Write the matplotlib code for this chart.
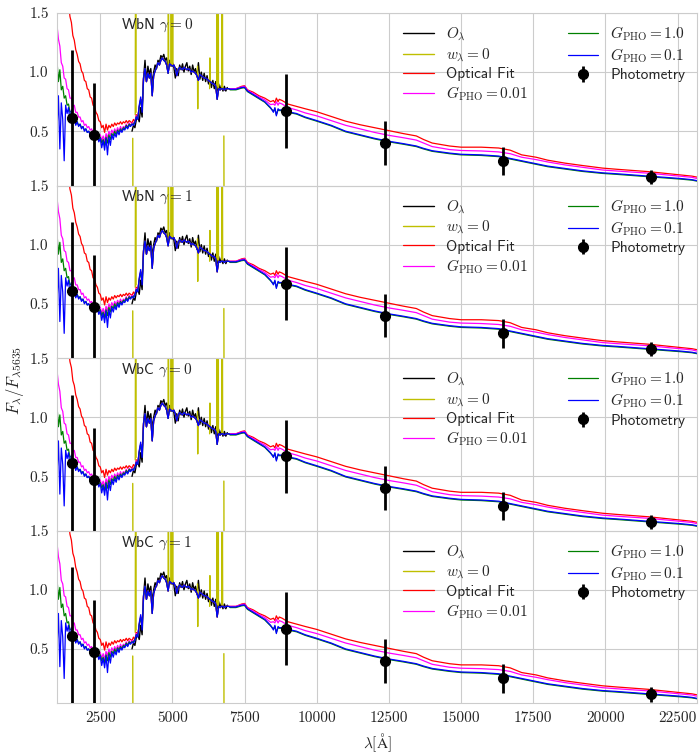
import numpy as np
import matplotlib
matplotlib.use('Agg')
import matplotlib.pyplot as plt
import seaborn as sns

sns.set_style('whitegrid')
plt.rcParams['font.family'] = ['cmr10', 'DejaVu Sans']
plt.rcParams['mathtext.fontset'] = 'cm'
plt.rcParams['axes.unicode_minus'] = False
plt.rcParams['axes.formatter.use_mathtext'] = True

nan = np.nan

panel_titles = ['WbN $\\gamma = 0$', 'WbN $\\gamma = 1$', 'WbC $\\gamma = 0$', 'WbC $\\gamma = 1$']

# ---- model wavelength grids ----
uv_wave = np.arange(1000, 4000, 50)
opt_wave = np.arange(4000, 7000, 50)
ir_wave = [7000, 7200, 7400, 7500, 7600, 7800, 8000, 8200, 8400, 8500, 8550, 8600, 8660, 8700, 8800,
           9000, 9300, 9600, 10000, 10500, 11000, 11500, 12000, 12500, 13000, 13450, 13700, 14000,
           14600, 15000, 15700, 16300, 16700, 17100, 17600, 18000, 18600, 19200, 19900, 20400,
           21500, 22600, 23000, 23170]

# ---- UV part of each model ----
red_uv = [2.30, 2.15, 2.20, 1.95, 2.00, 1.82, 1.78, 1.64, 1.58, 1.47,
          1.42, 1.31, 1.27, 1.19, 1.15, 1.09, 1.07, 1.01, 0.99, 0.93,
          0.92, 0.86, 0.85, 0.79, 0.78, 0.72, 0.71, 0.66, 0.64, 0.59,
          0.58, 0.53, 0.55, 0.49, 0.56, 0.51, 0.55, 0.53, 0.56, 0.54,
          0.57, 0.55, 0.57, 0.56, 0.58, 0.56, 0.58, 0.57, 0.59, 0.57,
          0.59, 0.58, 0.57, 0.60, 0.58, 0.64, 0.62, 0.71, 0.77, 0.72]
magenta_uv = [1.40, 1.28, 1.22, 1.08, 1.05, 0.95, 0.94, 0.86, 0.85, 0.78,
              0.78, 0.71, 0.72, 0.66, 0.66, 0.62, 0.62, 0.58, 0.59, 0.55,
              0.56, 0.53, 0.54, 0.51, 0.52, 0.49, 0.50, 0.47, 0.48, 0.45,
              0.47, 0.42, 0.46, 0.41, 0.48, 0.44, 0.50, 0.46, 0.51, 0.48,
              0.52, 0.49, 0.53, 0.50, 0.54, 0.51, 0.54, 0.53, 0.56, 0.53,
              0.57, 0.55, 0.57, 0.57, 0.58, 0.63, 0.61, 0.70, 0.77, 0.70]
green_uv = [1.10, 0.92, 1.02, 0.85, 0.88, 0.78, 0.80, 0.72, 0.73, 0.66,
            0.67, 0.61, 0.62, 0.58, 0.58, 0.55, 0.56, 0.53, 0.54, 0.51,
            0.52, 0.49, 0.50, 0.48, 0.49, 0.47, 0.48, 0.45, 0.46, 0.43,
            0.45, 0.40, 0.43, 0.38, 0.45, 0.40, 0.47, 0.43, 0.48, 0.46,
            0.50, 0.47, 0.51, 0.49, 0.52, 0.50, 0.53, 0.52, 0.55, 0.53,
            0.56, 0.55, 0.56, 0.56, 0.58, 0.62, 0.61, 0.70, 0.77, 0.69]
blue_uv = [0.50, 0.80, 0.35, 0.74, 0.60, 0.25, 0.72, 0.65, 0.70, 0.58,
           0.68, 0.60, 0.61, 0.55, 0.58, 0.54, 0.56, 0.52, 0.54, 0.50,
           0.52, 0.49, 0.50, 0.47, 0.49, 0.46, 0.48, 0.44, 0.46, 0.41,
           0.44, 0.36, 0.42, 0.34, 0.44, 0.30, 0.45, 0.38, 0.47, 0.43,
           0.48, 0.45, 0.50, 0.47, 0.51, 0.49, 0.52, 0.51, 0.54, 0.52,
           0.55, 0.54, 0.56, 0.55, 0.57, 0.62, 0.60, 0.72, 0.79, 0.66]

# ---- optical part shared by all models ----
model_opt = [0.95, 1.03, 0.92, 0.99, 0.95, 0.99, 0.80, 0.97, 1.01, 1.04,
             1.08, 1.06, 1.10, 1.12, 1.10, 1.09, 1.06, 0.99, 1.07, 1.06,
             1.05, 1.06, 1.03, 0.97, 1.02, 1.04, 1.03, 1.02, 1.04, 1.03,
             1.02, 1.03, 1.02, 1.00, 1.01, 1.00, 0.99, 0.97, 0.93, 0.98,
             0.97, 0.96, 0.95, 0.95, 0.94, 0.93, 0.92, 0.91, 0.90, 0.90,
             0.88, 0.77, 0.86, 0.85, 0.86, 0.86, 0.85, 0.86, 0.86, 0.86]

# ---- near-IR part of each model ----
red_ir = [0.86, 0.86, 0.88, 0.885, 0.85, 0.83, 0.80, 0.78, 0.75, 0.76, 0.74, 0.78, 0.75, 0.77, 0.76,
          0.73, 0.71, 0.69, 0.665, 0.625, 0.585, 0.555, 0.53, 0.505, 0.48, 0.46, 0.43, 0.40,
          0.375, 0.365, 0.365, 0.358, 0.34, 0.30, 0.28, 0.255, 0.23, 0.21, 0.188, 0.178,
          0.158, 0.13, 0.12, 0.112]
magenta_ir = [0.86, 0.86, 0.875, 0.88, 0.845, 0.82, 0.79, 0.765, 0.725, 0.73, 0.72, 0.75, 0.72, 0.74, 0.73,
              0.70, 0.68, 0.655, 0.63, 0.59, 0.55, 0.52, 0.49, 0.465, 0.445, 0.425, 0.40, 0.37,
              0.345, 0.337, 0.333, 0.325, 0.31, 0.28, 0.26, 0.24, 0.215, 0.195, 0.172, 0.163,
              0.145, 0.12, 0.11, 0.10]
green_ir = [0.85, 0.85, 0.865, 0.868, 0.835, 0.805, 0.775, 0.745, 0.695, 0.67, 0.69, 0.64, 0.68, 0.675, 0.675,
            0.66, 0.645, 0.615, 0.585, 0.545, 0.495, 0.465, 0.435, 0.41, 0.39, 0.37, 0.35, 0.33,
            0.31, 0.30, 0.295, 0.285, 0.265, 0.245, 0.22, 0.20, 0.18, 0.16, 0.143, 0.135,
            0.115, 0.095, 0.086, 0.078]
blue_ir = [0.855, 0.855, 0.87, 0.872, 0.84, 0.81, 0.78, 0.75, 0.70, 0.66, 0.70, 0.63, 0.69, 0.68, 0.68,
           0.665, 0.65, 0.62, 0.59, 0.55, 0.50, 0.47, 0.44, 0.415, 0.395, 0.375, 0.355, 0.335,
           0.315, 0.305, 0.30, 0.29, 0.27, 0.25, 0.225, 0.205, 0.185, 0.165, 0.148, 0.14,
           0.12, 0.10, 0.09, 0.082]

# ---- observed optical spectrum ----
obs_wave = np.arange(3600, 6950, 50)
obs_flux = [0.50, 0.55, 0.53, 0.60, 0.62, 0.58, 0.70, 0.62, 0.95, 1.10,
            0.92, 1.05, 0.98, 1.03, 0.90, 1.00, 1.06, 1.03, 1.10, 1.08,
            1.14, 1.12, 1.15, 1.10, 1.12, 1.04, 1.10, 1.05, 1.08, 1.04,
            0.95, 1.03, 0.97, 1.06, 1.02, 1.07, 1.00, 1.05, 1.08, 1.01,
            1.05, 0.98, 1.06, 1.00, 1.03, 0.96, 1.08, 0.94, 1.00, 0.93,
            0.99, 0.92, 0.97, 0.90, 0.95, 0.87, 0.93, 0.86, 0.92, 0.84,
            0.90, 0.85, 0.89, 0.84, 0.88, 0.84, 0.87]

# ---- masked (w=0) pixels ----
mask_wave = [3625, 3632, nan, 3712, 3727, 3742, nan, 4852, 4861, 4870, nan, 4950, 4959, 4968, nan,
             4998, 5007, 5016, nan, 5868, 5876, 5886, nan, 6290, 6300, 6310, nan,
             6538, 6548, 6556, 6563, 6572, 6584, 6594, nan, 6706, 6717, 6724, 6731, 6740, nan, 6782, 6788]
mask_flux = [0.44, -0.2, nan, 0.64, 2.5, 0.66, nan, 1.05, 2.2, 1.08, nan, 1.06, 1.9, 1.05, nan,
             1.05, 2.6, 1.06, nan, 1.05, 0.69, 0.98, nan, 0.86, 1.12, 0.92, nan,
             0.86, 1.9, 0.9, 3.0, 0.88, 2.4, 0.87, nan, 0.88, 1.8, 0.87, 1.7, 0.86, nan, 0.46, -0.2]

# ---- photometry ----
phot_wave = [1530, 2300, 8930, 12370, 16450, 21580]
phot_flux = [0.61, 0.47, 0.67, 0.40, 0.25, 0.115]
phot_err = [0.58, 0.44, 0.31, 0.185, 0.12, 0.06]

model_wave = np.concatenate([uv_wave, opt_wave, ir_wave])
models = [
    ('Optical Fit', '#ff0000', red_uv, red_ir),
    ('$G_{\\rm PHO} = 0.01$', '#ff00ff', magenta_uv, magenta_ir),
    ('$G_{\\rm PHO} = 1.0$', '#008000', green_uv, green_ir),
    ('$G_{\\rm PHO} = 0.1$', '#0000ff', blue_uv, blue_ir),
]

fig = plt.figure(figsize=(6.99, 7.53), dpi=100)
axes = fig.subplots(4, 1, sharex=True)
fig.subplots_adjust(left=0.0815, right=0.997, top=0.9827, bottom=0.066, hspace=0)

for ax, title in zip(axes, panel_titles):
    ax.plot(obs_wave, obs_flux, color='k', lw=1.0, label='$O_\\lambda$')
    ax.plot(mask_wave, mask_flux, color='y', lw=1.0, label='$w_\\lambda = 0$')
    for lab, col, uv, ir in models:
        flux = np.concatenate([uv, model_opt, ir])
        ax.plot(model_wave, flux, color=col, lw=0.9, label=lab)
    ax.errorbar(phot_wave, phot_flux, yerr=phot_err, fmt='o', color='k', ms=7,
                elinewidth=2, capsize=0, label='Photometry', zorder=5)
    ax.set_xlim(1000, 23170)
    ax.set_ylim(0.04, 1.5)
    ax.set_yticks([0.5, 1.0, 1.5])
    ax.set_yticklabels(['0.5', '1.0', '1.5'])
    ax.tick_params(axis='both', labelsize=11, pad=6, length=0)
    ax.text(0.10, 0.93, title, transform=ax.transAxes, family=['cmss10'], fontsize=11,
            va='center', ha='left', color='.15')
    ax.legend(loc='upper right', ncol=2, frameon=False, labelspacing=0.22,
              columnspacing=2.6, borderaxespad=0.35,
              prop={'family': 'cmss10', 'size': 11})

axes[-1].set_xticks([2500, 5000, 7500, 10000, 12500, 15000, 17500, 20000, 22500])
axes[-1].set_xticklabels(['2500', '5000', '7500', '10000', '12500', '15000', '17500', '20000', '22500'])
axes[-1].set_xlabel('$\\lambda[\\mathrm{\\AA}]$', fontsize=11)
fig.text(0.022, 0.495, '$F_\\lambda/F_{\\lambda5635}$', rotation=90, va='center', ha='center', fontsize=12)

fig.savefig('out.png', dpi=100)
